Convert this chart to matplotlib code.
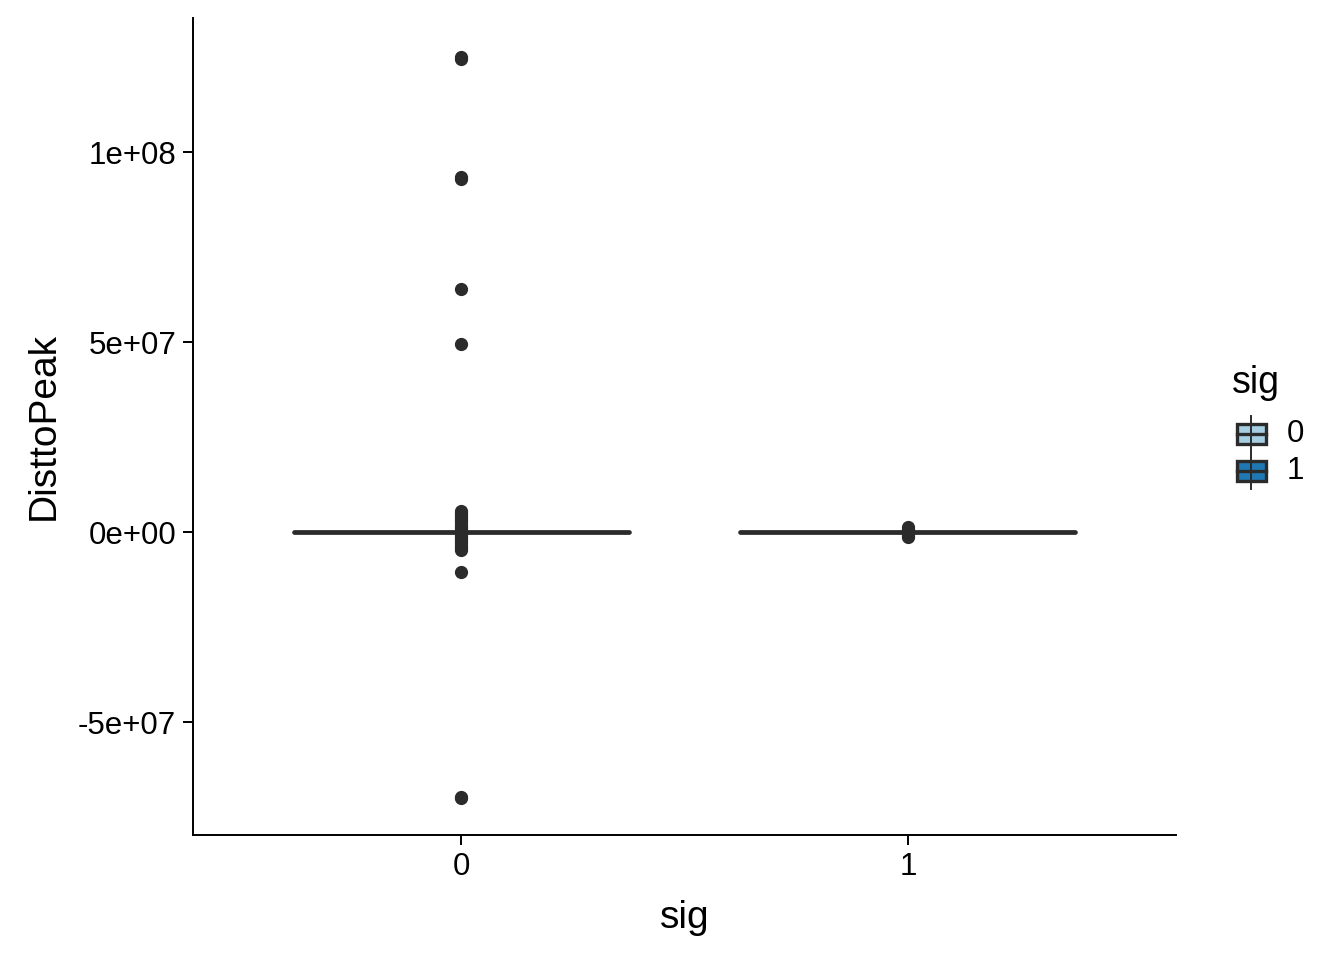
import matplotlib.pyplot as plt
from matplotlib.patches import Rectangle

plt.rcParams['font.family'] = ['Liberation Sans', 'DejaVu Sans']

# dados
grupos = ['0', '1']
cores = ['#A6CEE3', '#1F78B4']
medianas = [0.0, 0.0]
q1 = [-2e4, -1e4]
q3 = [2e4, 1e4]
outliers_0 = [1.25e8, 1.245e8, 9.35e7, 9.3e7, 6.4e7, 4.95e7,
              5.5e6, 5.0e6, 4.6e6, 4.1e6, 3.7e6, 3.2e6, 2.8e6, 2.3e6,
              1.9e6, 1.4e6, 1.0e6, 0.6e6, -0.6e6, -1.0e6, -1.5e6, -2.0e6,
              -2.4e6, -2.9e6, -3.3e6, -3.8e6, -4.2e6, -4.6e6,
              -1.05e7, -6.97e7, -7.0e7]
outliers_1 = [1.3e6, 0.9e6, 0.5e6, -0.5e6, -0.9e6, -1.4e6]

y_ticks = [-5e7, 0, 5e7, 1e8]
y_labels = ['-5e+07', '0e+00', '5e+07', '1e+08']

titulo_x = 'sig'
titulo_y = 'DisttoPeak'
titulo_legenda = 'sig'

fig = plt.figure(figsize=(13.44, 9.6), dpi=100)
ax = fig.add_axes([193 / 1344, 1 - 835 / 960, (1176 - 193) / 1344, (835 - 18) / 960])

stats = []
for i, fl in enumerate([outliers_0, outliers_1]):
    stats.append({'med': medianas[i], 'q1': q1[i], 'q3': q3[i],
                  'whislo': q1[i], 'whishi': q3[i], 'fliers': fl})

escuro = '#2b2b2b'
bp = ax.bxp(stats, positions=[1, 2], widths=0.75, showcaps=False, patch_artist=True,
            boxprops=dict(edgecolor=escuro, linewidth=2.4),
            medianprops=dict(color=escuro, linewidth=3.4, solid_capstyle='round'),
            whiskerprops=dict(color=escuro, linewidth=2.4),
            flierprops=dict(marker='o', markerfacecolor=escuro, markeredgecolor=escuro,
                            markersize=8.5, linestyle='none'))
for caixa, cor in zip(bp['boxes'], cores):
    caixa.set_facecolor(cor)

ax.set_xlim(0.4, 2.6)
ax.set_ylim(-7.97e7, 1.3526e8)
ax.set_xticks([1, 2])
ax.set_xticklabels(grupos)
ax.set_yticks(y_ticks)
ax.set_yticklabels(y_labels)

for lado in ['top', 'right']:
    ax.spines[lado].set_visible(False)
for lado in ['left', 'bottom']:
    ax.spines[lado].set_linewidth(1.4)
    ax.spines[lado].set_color('black')

ax.tick_params(axis='both', labelsize=22.5, length=7, width=1.4, colors='black', pad=5)
ax.set_xlabel(titulo_x, fontsize=28, labelpad=13)
ax.set_ylabel(titulo_y, fontsize=28, labelpad=12)

# legenda desenhada a mao (em pixels)
leg = fig.add_axes([0, 0, 1, 1], facecolor='none')
leg.set_xlim(0, 1344)
leg.set_ylim(960, 0)
leg.axis('off')
leg.text(1232, 383, titulo_legenda, fontsize=27, va='center', ha='left')
for i, (g, cor) in enumerate(zip(grupos, cores)):
    yc = 434 + i * 37
    leg.plot([1251, 1251], [yc - 18, yc + 18], color=escuro, lw=1.4)
    leg.add_patch(Rectangle((1237, yc - 10), 29, 20, facecolor=cor, edgecolor=escuro, lw=2.4))
    leg.plot([1237, 1266], [yc, yc], color=escuro, lw=2.4)
    leg.text(1287, yc, g, fontsize=22.5, va='center', ha='left')

fig.savefig('out.png', dpi=100)
